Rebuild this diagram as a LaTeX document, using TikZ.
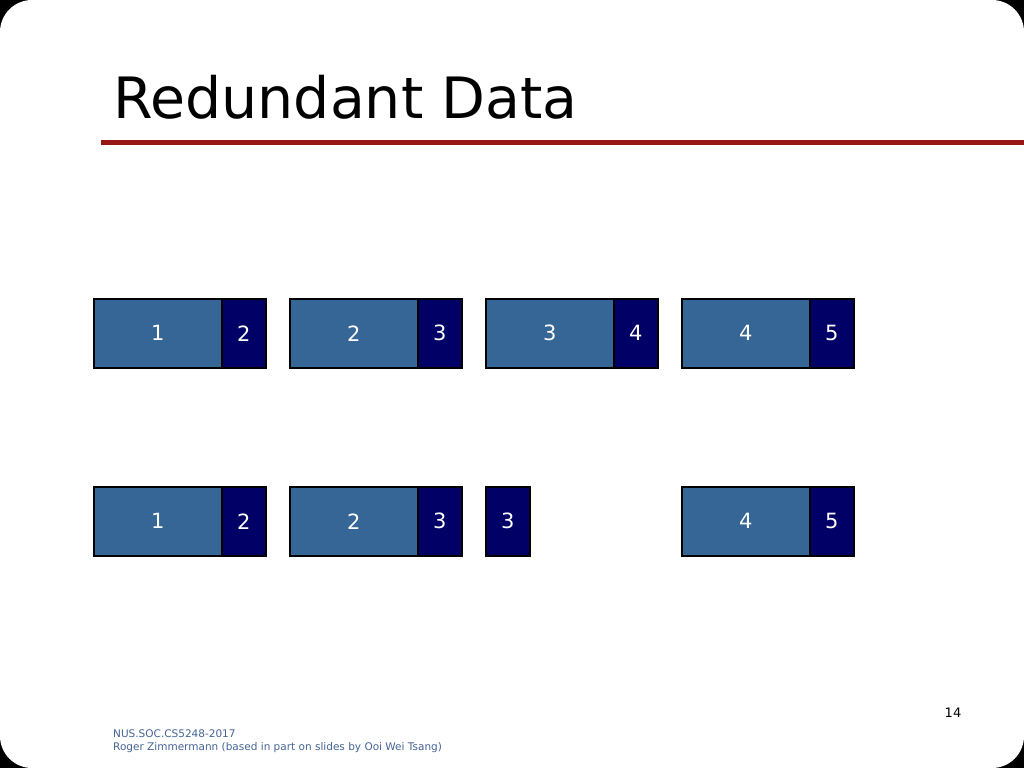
\documentclass[tikz,border=0pt]{standalone}
\usepackage{fontspec}
\setmainfont{DejaVu Sans}
\definecolor{cellblue}{RGB}{54,102,150}
\definecolor{cellnavy}{RGB}{0,0,102}
\definecolor{rulered}{RGB}{150,22,22}
\definecolor{footblue}{RGB}{70,100,150}
\tikzset{
  bigcell/.style={draw=black,line width=1.5pt,fill=cellblue,minimum width=128pt,minimum height=69pt,inner sep=0pt,text=white,font=\fontsize{21}{21}\selectfont,anchor=north west},
  smallcell/.style={bigcell,fill=cellnavy,minimum width=44pt}
}
\begin{document}
\begin{tikzpicture}[x=1pt,y=-1pt]
  \useasboundingbox (0,0) rectangle (1024,768);
  \fill[black] (0,0) rectangle (1024,768);
  \fill[white,rounded corners=32pt] (0,0) rectangle (1024,768);
  \node[anchor=base west,inner sep=0pt,font=\fontsize{57}{57}\selectfont] (title) at (113,118) {Redundant Data};
  \fill[rulered] (101,139.5) rectangle (1024,144.5);
  % upper row
  \foreach \i in {1, ..., 4} {
    \pgfmathtruncatemacro{\j}{\i + 1}
    \node[bigcell] (a\i) at ({196*\i-103}, 298) {\i};
    \node[smallcell] (b\i) at ({196*\i+25}, 298) {\j};
  }
  % lower row
  \foreach \i in {1, ..., 4} {
    \pgfmathtruncatemacro{\j}{\i + 1}
    \ifnum \i=3
      \node[smallcell] (d\i) at ({196*\i-103}, 486) {\i};
    \else
      \node[bigcell] (c\i) at ({196*\i-103}, 486) {\i};
      \node[smallcell] (d\i) at ({196*\i+25}, 486) {\j};
    \fi
  }
  \node[font=\fontsize{13}{13}\selectfont] (page) at (953,713) {14};
  \node[anchor=north west,inner sep=0pt,align=left,text=footblue,font=\fontsize{10.5}{13}\selectfont] (foot) at (113,729) {NUS.SOC.CS5248-2017\\Roger Zimmermann (based in part on slides by Ooi Wei Tsang)};
\end{tikzpicture}
\end{document}
